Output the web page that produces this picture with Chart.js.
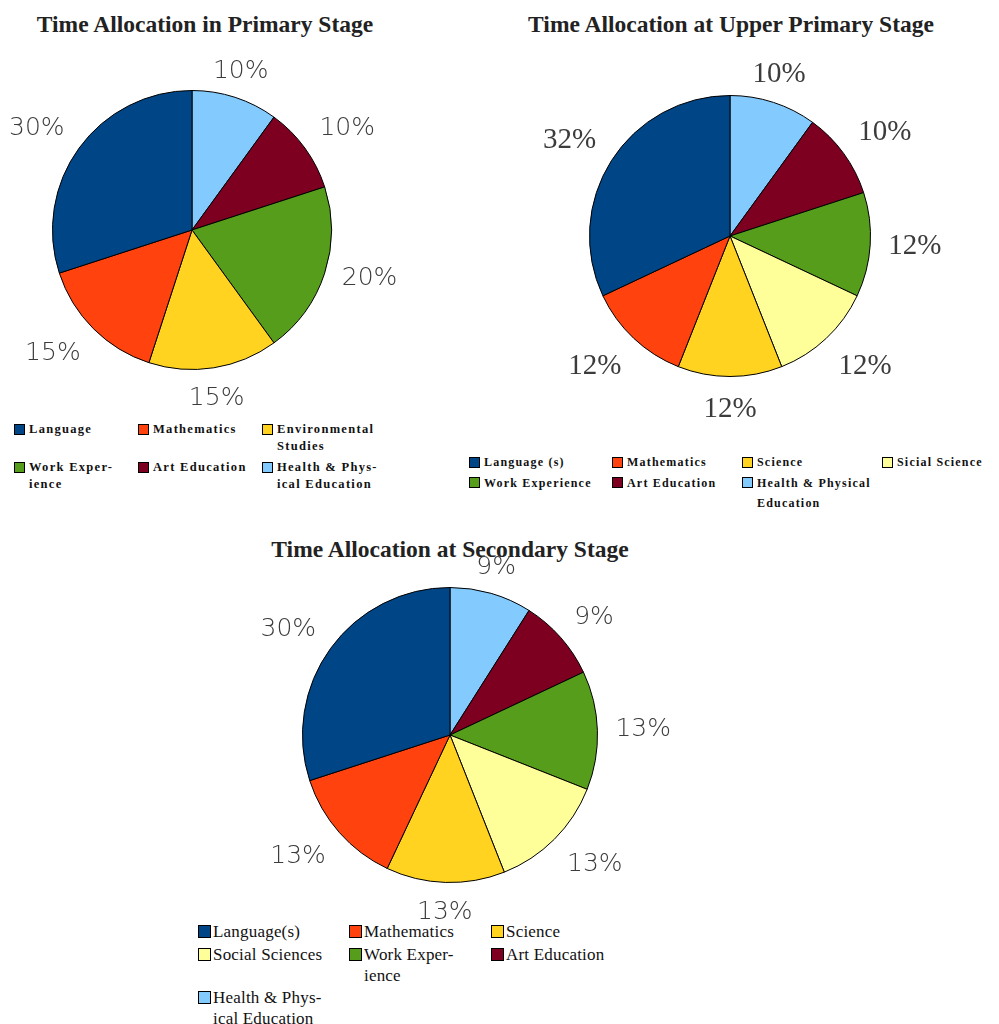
<!DOCTYPE html>
<html>
<head>
<meta charset="utf-8">
<script src="https://cdn.jsdelivr.net/npm/chart.js@4"></script>
<style>
  body { margin: 0; background: #fff; width: 999px; height: 1024px; position: relative; overflow: hidden; }
  .title { position: absolute; font-family: "Liberation Serif", serif; font-weight: bold; font-size: 23.5px; color: #222; white-space: nowrap; transform: translate(-50%, -50%); }
  canvas { position: absolute; }
  .legend { position: absolute; display: grid; color: #111; font-family: "Liberation Serif", serif; }
  .item { display: flex; align-items: flex-start; }
  .sq { border: 1px solid #000; box-sizing: border-box; flex: none; }
</style>
</head>
<body>
<div class="title" style="left:205px; top:24px">Time Allocation in Primary Stage</div>
<div class="title" style="left:731px; top:24px">Time Allocation at Upper Primary Stage</div>
<div class="title" style="left:450px; top:549px">Time Allocation at Secondary Stage</div>

<canvas id="pie1" style="left:0px; top:40px"></canvas>
<canvas id="pie2" style="left:540px; top:40px"></canvas>
<canvas id="pie3" style="left:230px; top:540px"></canvas>

<div id="legend1" class="legend"></div>
<div id="legend2" class="legend"></div>
<div id="legend3" class="legend"></div>

<script>
// data, legend order (slices run counter-clockwise from 12 o'clock)
const primaryLabels = ['Language', 'Mathematics', 'Environmental Studies', 'Work Experience', 'Art Education', 'Health & Physical Education'];
const primaryValues = [30, 15, 15, 20, 10, 10];

const upperLabels = ['Language (s)', 'Mathematics', 'Science', 'Sicial Science', 'Work Experience', 'Art Education', 'Health & Physical Education'];
const upperValues = [32, 12, 12, 12, 12, 10, 10];

const secondaryLabels = ['Language(s)', 'Mathematics', 'Science', 'Social Sciences', 'Work Experience', 'Art Education', 'Health & Physical Education'];
const secondaryValues = [30, 13, 13, 13, 13, 9, 9];

const primaryColors = ['#004586', '#ff420e', '#ffd320', '#579d1c', '#7e0021', '#83caff'];
const stageColors = ['#004586', '#ff420e', '#ffd320', '#ffff99', '#579d1c', '#7e0021', '#83caff'];

// percent labels outside each slice
const outsideLabels = {
  id: 'outsideLabels',
  afterDatasetsDraw(chart, args, opts) {
    const ctx = chart.ctx;
    const ds = chart.data.datasets[0];
    ctx.save();
    ctx.font = opts.font;
    ctx.fillStyle = opts.color;
    chart.getDatasetMeta(0).data.forEach((arc, i) => {
      const a = (arc.startAngle + arc.endAngle) / 2;
      const dx = Math.cos(a), dy = Math.sin(a);
      const r = arc.outerRadius + opts.gap;
      let px = arc.x + dx * r, py = arc.y + dy * r;
      ctx.textAlign = dx > 0.4 ? 'left' : (dx < -0.4 ? 'right' : 'center');
      ctx.textBaseline = dy > 0.4 ? 'top' : (dy < -0.4 ? 'bottom' : 'middle');
      if (dy < -0.4) py += 4; // bottom box has descender room
      ctx.fillText(ds.data[i] + '%', px, py);
    });
    ctx.restore();
  }
};

function makePie(id, w, h, pad, labels, values, colors, labelFont) {
  const el = document.getElementById(id);
  el.width = w; el.height = h;
  el.style.width = w + 'px'; el.style.height = h + 'px';
  new Chart(el, {
    type: 'pie',
    data: {
      labels: labels.slice().reverse(),
      datasets: [{
        data: values.slice().reverse(),
        backgroundColor: colors.slice().reverse(),
        borderColor: '#000',
        borderWidth: 1,
      }],
    },
    options: {
      responsive: false,
      animation: false,
      layout: { padding: pad },
      plugins: {
        legend: { display: false },
        tooltip: { enabled: false },
        outsideLabels: { font: labelFont, color: '#3c3c3c', gap: 18 },
      },
    },
    plugins: [outsideLabels],
  });
}

function makeLegend(id, pos, labels, colors, breaks, style) {
  const box = document.getElementById(id);
  box.style.left = pos.left + 'px';
  box.style.top = pos.top + 'px';
  box.style.gridTemplateColumns = style.cols.map(c => c + 'px').join(' ');
  box.style.rowGap = style.rowGap + 'px';
  box.style.fontSize = style.size + 'px';
  box.style.fontWeight = style.weight;
  box.style.letterSpacing = style.spacing + 'px';
  box.style.lineHeight = style.lh + 'px';
  labels.forEach((lab, i) => {
    const item = document.createElement('div');
    item.className = 'item';
    const sq = document.createElement('div');
    sq.className = 'sq';
    sq.style.width = style.sq + 'px';
    sq.style.height = style.sq + 'px';
    sq.style.marginTop = ((style.lh - style.sq) / 2) + 'px';
    sq.style.marginRight = style.gap + 'px';
    sq.style.background = colors[i];
    const txt = document.createElement('div');
    (breaks[lab] || [lab]).forEach(line => {
      const l = document.createElement('div');
      l.textContent = line;
      l.style.whiteSpace = 'nowrap';
      txt.appendChild(l);
    });
    item.appendChild(sq);
    item.appendChild(txt);
    box.appendChild(item);
  });
}

const sansLabel = '200 25px "DejaVu Sans"';
const serifLabel = '29px "Liberation Serif"';

makePie('pie1', 400, 380, { left: 52, right: 68, top: 50, bottom: 50 }, primaryLabels, primaryValues, primaryColors, sansLabel);
makePie('pie2', 459, 400, { left: 49, right: 128, top: 55, bottom: 63 }, upperLabels, upperValues, stageColors, serifLabel);
makePie('pie3', 440, 380, { left: 72, right: 72, top: 47, bottom: 37 }, secondaryLabels, secondaryValues, stageColors, sansLabel);

makeLegend('legend1', { left: 14, top: 421 }, primaryLabels, primaryColors, {
  'Environmental Studies': ['Environmental', 'Studies'],
  'Work Experience': ['Work Exper-', 'ience'],
  'Health & Physical Education': ['Health & Phys-', 'ical Education'],
}, { cols: [124, 124, 130], rowGap: 4, size: 12.5, weight: 'bold', spacing: 1.3, lh: 17, sq: 11, gap: 4 });

makeLegend('legend2', { left: 469, top: 452 }, upperLabels, stageColors, {
  'Health & Physical Education': ['Health & Physical', 'Education'],
}, { cols: [143, 130, 140, 110], rowGap: 0, size: 12, weight: 'bold', spacing: 1.2, lh: 20.5, sq: 11, gap: 4 });

makeLegend('legend3', { left: 198, top: 921 }, secondaryLabels, stageColors, {
  'Work Experience': ['Work Exper-', 'ience'],
  'Health & Physical Education': ['Health & Phys-', 'ical Education'],
}, { cols: [151, 142, 150], rowGap: 1.5, size: 17, weight: 'normal', spacing: 0.2, lh: 21, sq: 13, gap: 2 });
</script>
</body>
</html>
